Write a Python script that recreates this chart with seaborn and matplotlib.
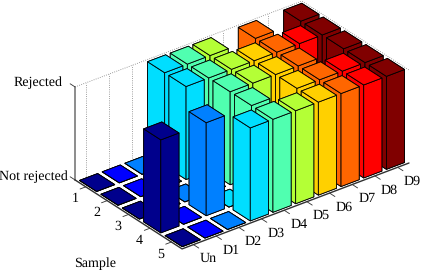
import matplotlib
matplotlib.use('Agg')
import matplotlib.pyplot as plt
from mpl_toolkits.mplot3d import proj3d
import seaborn as sns

# labels
samples = ['1', '2', '3', '4', '5']
detectors = ['Un', 'D1', 'D2', 'D3', 'D4', 'D5', 'D6', 'D7', 'D8', 'D9']

# 1 = rejected, 0 = not rejected, one list per sample
sample_1 = [0, 0, 0, 1, 1, 1, 0, 1, 0, 1]
sample_2 = [0, 0, 0, 1, 1, 1, 1, 1, 1, 1]
sample_3 = [0, 0, 0, 0, 1, 1, 1, 1, 0, 1]
sample_4 = [1, 0, 1, 0, 1, 0, 1, 1, 1, 1]
sample_5 = [0, 0, 0, 1, 1, 1, 1, 1, 1, 1]
rejected = [sample_1, sample_2, sample_3, sample_4, sample_5]

sns.set_theme(style='white')
plt.rcParams['font.family'] = ['Liberation Serif', 'DejaVu Serif']
plt.rcParams['text.hinting'] = 'no_hinting'
plt.rcParams['text.hinting_factor'] = 1
colors = sns.color_palette(['#00008c', '#0000ff', '#0080ff', '#00deff', '#50ffb0',
                            '#b4ff36', '#ffd000', '#ff6600', '#ff0000', '#800000'])

W, H = 421, 271
fig = plt.figure(figsize=(W / 100, H / 100), dpi=100)
S = 342
ax = fig.add_axes([66.4 / W, -29.6 / H, S / W, S / H], projection='3d', proj_type='ortho')
ax.computed_zorder = False
ax.set_box_aspect((286, 176, 107))
ax.view_init(elev=29.6, azim=-127.47)
ax.set_xlim(0, 10)
ax.set_ylim(5, 0)
ax.set_zlim(0, 1)
ax.set_axis_off()


def label(x, y, z, s, ha='center'):
    # plain 2d text at the projected spot of a 3d point
    px, py, _ = proj3d.proj_transform(x, y, z, ax.get_proj())
    ax.text2D(px, py, s, transform=ax.transData, ha=ha, va='center',
              fontsize=10.2, color='black')


# walls
grid = dict(color='#808080', lw=0.6, ls=':', zorder=1, clip_on=False)
ax.plot([0, 10, 10], [0, 0, 5], [1, 1, 1], **grid)
for c in range(len(detectors)):
    ax.plot([c + 0.5, c + 0.5], [0, 0], [0, 1], **grid)
for r in range(len(samples)):
    ax.plot([10, 10], [r + 0.5, r + 0.5], [0, 1], **grid)

# axis lines and ticks
ax.plot([0, 0], [0, 0], [0, 1], color='#8c8c8c', lw=1.4, zorder=2, clip_on=False)
ax.plot([0, 0, 10], [0, 5, 5], [0, 0, 0], color='#303030', lw=1.0, zorder=2, clip_on=False)
tick = dict(color='#303030', lw=0.6, zorder=2, clip_on=False)
for z in [0, 1]:
    ax.plot([0, 0], [0, -0.23], [z, z], **tick)
for r, name in enumerate(samples):
    ax.plot([0, -0.25], [r + 0.5, r + 0.5], [0, 0], **tick)
    label(-0.47, r + 0.5, -0.087, name)
for c, name in enumerate(detectors):
    ax.plot([c + 0.5, c + 0.5], [5, 5.25], [0, 0], **tick)
    label(c + 0.5, 5.68, -0.053, name)

label(0, -0.6, 0.953, 'Rejected', ha='right')
label(0, -0.32, -0.015, 'Not rejected', ha='right')
label(-1.47, 2.5, -0.39, 'Sample')

# bars, back to front
order = 3
for r in range(len(samples)):
    for c in reversed(range(len(detectors))):
        ax.bar3d(c + 0.1, r + 0.1, 0, 0.8, 0.8, rejected[r][c], color=colors[c],
                 edgecolor='black', linewidth=0.6, shade=False, zorder=order)
        order += 1

fig.savefig('out.png', dpi=100)
